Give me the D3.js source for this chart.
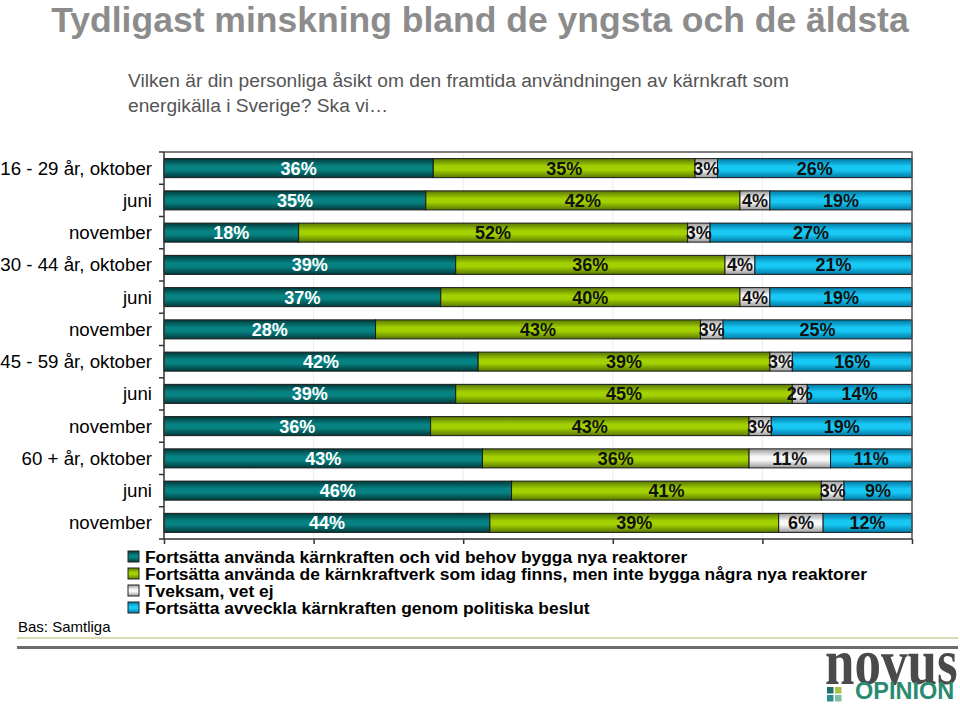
<!DOCTYPE html>
<html>
<head>
<meta charset="utf-8">
<script src="https://cdn.jsdelivr.net/npm/d3@7"></script>
<style>
  html, body { margin: 0; padding: 0; background: #fff; }
  svg { display: block; font-family: Arial, "Liberation Sans", sans-serif; }
</style>
</head>
<body>
<svg id="chart" width="960" height="704"></svg>
<script>
// ---- data ----
const categories = [
  "16 - 29 år, oktober", "juni", "november",
  "30 - 44 år, oktober", "juni", "november",
  "45 - 59 år, oktober", "juni", "november",
  "60 + år, oktober", "juni", "november"
];
const seriesNames = [
  "Fortsätta använda kärnkraften och vid behov bygga nya reaktorer",
  "Fortsätta använda de kärnkraftverk som idag finns, men inte bygga några nya reaktorer",
  "Tveksam, vet ej",
  "Fortsätta avveckla kärnkraften genom politiska beslut"
];
const bygga    = [36, 35, 18, 39, 37, 28, 42, 39, 36, 43, 46, 44];
const behalla  = [35, 42, 52, 36, 40, 43, 39, 45, 43, 36, 41, 39];
const tveksam  = [ 3,  4,  3,  4,  4,  3,  3,  2,  3, 11,  3,  6];
const avveckla = [26, 19, 27, 21, 19, 25, 16, 14, 19, 11,  9, 12];
const xTicks = [0, 20, 40, 60, 80, 100];

const titleText = "Tydligast minskning bland de yngsta och de äldsta";
const subtitle = ["Vilken är din personliga åsikt om den framtida användningen av kärnkraft som",
                  "energikälla i Sverige? Ska vi\u2026"];
const baseText = "Bas: Samtliga";

// ---- styles ----
const palette = [
  {mid: "#078282", edge: "#013a3b", text: "#ffffff"},
  {mid: "#a2d000", edge: "#587800", text: "#111111"},
  {mid: "#f7f7f7", edge: "#9a9a9a", text: "#111111"},
  {mid: "#18c8f4", edge: "#0078a4", text: "#111111"}
];

const svg = d3.select("#chart");
const defs = svg.append("defs");
palette.forEach((p, i) => {
  const g = defs.append("linearGradient").attr("id", "grad" + i)
    .attr("x1", 0).attr("y1", 0).attr("x2", 0).attr("y2", 1);
  g.append("stop").attr("offset", "0%").attr("stop-color", p.edge);
  g.append("stop").attr("offset", "40%").attr("stop-color", p.mid);
  g.append("stop").attr("offset", "60%").attr("stop-color", p.mid);
  g.append("stop").attr("offset", "100%").attr("stop-color", p.edge);
});

// ---- layout ----
const pLeft = 164, pRight = 912, pTop = 152, pBottom = 539;

const x = d3.scaleLinear().domain([0, 100]).range([pLeft, pRight]);
const y = d3.scaleBand().domain(d3.range(categories.length))
  .range([pTop, pBottom]).paddingInner(0.41).paddingOuter(0.205);

// title
svg.append("text").attr("x", 480).attr("y", 32)
  .attr("text-anchor", "middle").attr("font-size", 35.5).attr("font-weight", "bold")
  .attr("fill", "#8c8c8c").text(titleText);

svg.selectAll("text.sub").data(subtitle).join("text").attr("class", "sub")
  .attr("x", 128).attr("y", (d, i) => 87 + i * 25)
  .attr("font-size", 19.2).attr("fill", "#555").text(d => d);

// gridlines
svg.append("g").selectAll("line").data(xTicks.slice(1, -1)).join("line")
  .attr("x1", d => x(d)).attr("x2", d => x(d))
  .attr("y1", pTop).attr("y2", pBottom)
  .attr("stroke", "#ececec").attr("stroke-width", 1);

// stacked data, normalized to 100%
const rows = categories.map((c, i) => {
  const vals = [bygga[i], behalla[i], tveksam[i], avveckla[i]];
  const total = d3.sum(vals);
  let acc = 0;
  return vals.map((v, s) => {
    const x0 = acc / total * 100;
    acc += v;
    return {row: i, s, v, x0, x1: acc / total * 100};
  });
});
const segs = rows.flat();

const bars = svg.append("g");
bars.selectAll("rect").data(segs).join("rect")
  .attr("x", d => x(d.x0))
  .attr("y", d => y(d.row))
  .attr("width", d => x(d.x1) - x(d.x0))
  .attr("height", y.bandwidth())
  .attr("fill", d => `url(#grad${d.s})`)
  .attr("stroke", "#1a1a1a").attr("stroke-width", 1);

bars.selectAll("text").data(segs).join("text")
  .attr("x", d => (x(d.x0) + x(d.x1)) / 2)
  .attr("y", d => y(d.row) + y.bandwidth() / 2 + 6.5)
  .attr("text-anchor", "middle")
  .attr("font-size", 18).attr("font-weight", "bold")
  .attr("fill", d => palette[d.s].text)
  .text(d => d.v + "%");

// frame
svg.append("path")
  .attr("d", `M${pLeft},${pTop}H${pRight}V${pBottom}`)
  .attr("fill", "none").attr("stroke", "#555").attr("stroke-width", 1.5);

// bottom axis
const xAxis = svg.append("g").attr("transform", `translate(0,${pBottom})`)
  .call(d3.axisBottom(x).tickValues(xTicks).tickSize(5).tickFormat(""));
xAxis.selectAll("path,line").attr("stroke", "#333").attr("stroke-width", 1.5);
xAxis.select(".domain").attr("d", `M${pLeft},0H${pRight}`);

// left axis with ticks between categories
const yAxis = svg.append("g").attr("transform", `translate(${pLeft},0)`);
yAxis.append("line").attr("x1", 0).attr("x2", 0).attr("y1", pTop).attr("y2", pBottom)
  .attr("stroke", "#333").attr("stroke-width", 1.5);
const bounds = d3.range(categories.length + 1).map(i => pTop + i * y.step());
yAxis.selectAll("line.tk").data(bounds).join("line").attr("class", "tk")
  .attr("x1", -5).attr("x2", 0).attr("y1", d => d).attr("y2", d => d)
  .attr("stroke", "#333").attr("stroke-width", 1.5);
yAxis.selectAll("text").data(categories).join("text")
  .attr("x", -12).attr("y", (d, i) => y(i) + y.bandwidth() / 2 + 6.5)
  .attr("text-anchor", "end").attr("font-size", 18.7).attr("fill", "#000")
  .text(d => d);

// legend
const legend = svg.append("g").attr("transform", "translate(128,550)");
const li = legend.selectAll("g").data(seriesNames).join("g")
  .attr("transform", (d, i) => `translate(0,${i * 17})`);
li.append("rect").attr("x", 0).attr("y", 1).attr("width", 11).attr("height", 11)
  .attr("fill", (d, i) => `url(#grad${i})`).attr("stroke", "#222").attr("stroke-width", 1);
li.append("text").attr("x", 17).attr("y", 13)
  .attr("font-size", 17.4).attr("font-weight", "bold").attr("fill", "#000")
  .text(d => d);

// base text
svg.append("text").attr("x", 18).attr("y", 632).attr("font-size", 15)
  .attr("fill", "#000").text(baseText);

// footer lines
svg.append("line").attr("x1", 17).attr("x2", 958).attr("y1", 638).attr("y2", 638)
  .attr("stroke", "#cccc99").attr("stroke-width", 1.5);
svg.append("line").attr("x1", 17).attr("x2", 958).attr("y1", 647.5).attr("y2", 647.5)
  .attr("stroke", "#6b6b6b").attr("stroke-width", 3);

// logo
const logo = svg.append("g");
logo.append("text").attr("transform", "translate(825,684) scale(1,1.22)")
  .attr("font-family", "'Liberation Serif', 'DejaVu Serif', serif")
  .attr("font-weight", "bold").attr("font-size", 53)
  .attr("fill", "#4a4a4a").text("novus");
const sq = [["#1f6f6a", "#a6c24a"], ["#2f8f8a", "#7cc0a8"]];
sq.forEach((r, ri) => r.forEach((c, ci) => {
  logo.append("rect").attr("x", 827 + ci * 8).attr("y", 687 + ri * 8)
    .attr("width", 6.5).attr("height", 6.5).attr("fill", c);
}));
logo.append("text").attr("x", 855).attr("y", 699)
  .attr("font-weight", "bold").attr("font-size", 23.5)
  .attr("fill", "#2a8a72").text("OPINION");
</script>
</body>
</html>
